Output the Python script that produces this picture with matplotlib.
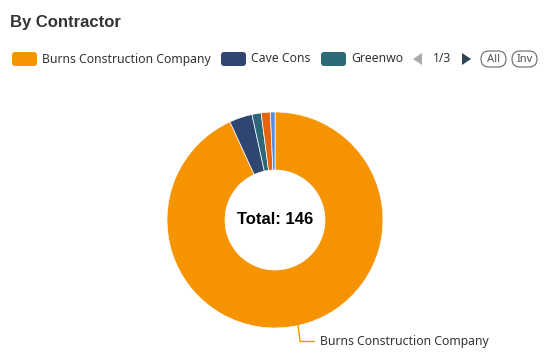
import matplotlib.pyplot as plt
from matplotlib.patches import FancyBboxPatch, Polygon
import numpy as np

# contractor counts (page 1 of legend shows the first three)
contractors = ["Burns Construction Company", "Cave Cons", "Greenwo", "Other A", "Other B"]
counts = [136, 5, 2, 2, 1]
colors = ["#F59300", "#2F4670", "#2C6878", "#E8640C", "#4B8BEA"]
legend_names = ["Burns Construction Company", "Cave Cons", "Greenwo"]

W, H = 546, 356
fig = plt.figure(figsize=(W / 100, H / 100), dpi=100)
ax = fig.add_axes([0, 0, 1, 1])

cx, cy, r_out, r_in = 275, H - 220, 108, 50

wedges, _ = ax.pie(counts, colors=colors, startangle=90, counterclock=False,
                   center=(cx, cy), radius=r_out, frame=True,
                   wedgeprops=dict(width=r_out - r_in, edgecolor="white", linewidth=0.5))
ax.set_xlim(0, W)
ax.set_ylim(0, H)
ax.axis("off")

font = "Liberation Sans"
lfont = "Noto Sans"

# title
ax.text(10, H - 23, "By Contractor", fontsize=12, fontweight="bold", color="#333333",
        family=font, va="center", ha="left")

# legend row
ly = H - 59
x_icons = [12, 221, 321]
for xi, name, col in zip(x_icons, legend_names, colors):
    ax.add_patch(FancyBboxPatch((xi + 2, ly - 5), 21, 10, boxstyle="round,pad=2,rounding_size=3",
                                fc=col, ec="none"))
    ax.text(xi + 30, ly, name, fontsize=8.8, color="#333333", family=lfont, va="center", ha="left")

# paging controls
ax.add_patch(Polygon([[422, ly + 6], [422, ly - 6], [413, ly]], closed=True, fc="#aaaaaa", ec="none"))
ax.text(442, ly, "1/3", fontsize=8.8, color="#333333", family=lfont, va="center", ha="center")
ax.add_patch(Polygon([[462, ly + 6], [462, ly - 6], [471, ly]], closed=True, fc="#2F4554", ec="none"))
for x0, lab in [(481, "All"), (512, "Inv")]:
    ax.add_patch(FancyBboxPatch((x0, ly - 8), 25, 16, boxstyle="round,pad=0,rounding_size=8",
                                fc="white", ec="#666666", lw=0.8))
    ax.text(x0 + 12.5, ly, lab, fontsize=8, color="#555555", family=lfont, va="center", ha="center")

# center total
ax.text(cx, cy, f"Total: {sum(counts)}", fontsize=12, fontweight="bold", color="black",
        family=font, va="center", ha="center")

# label line for largest slice
w0 = wedges[0]
mid = np.deg2rad((w0.theta1 + w0.theta2) / 2)
px, py = cx + r_out * np.cos(mid), cy + r_out * np.sin(mid)
ax.plot([px, px + 2, px + 16], [py, py - 16, py - 16], color=colors[0], lw=1)
ax.text(px + 22, py - 16, contractors[0], fontsize=8.8, color="#333333", family=lfont,
        va="center", ha="left")

fig.savefig("out.png", dpi=100)
